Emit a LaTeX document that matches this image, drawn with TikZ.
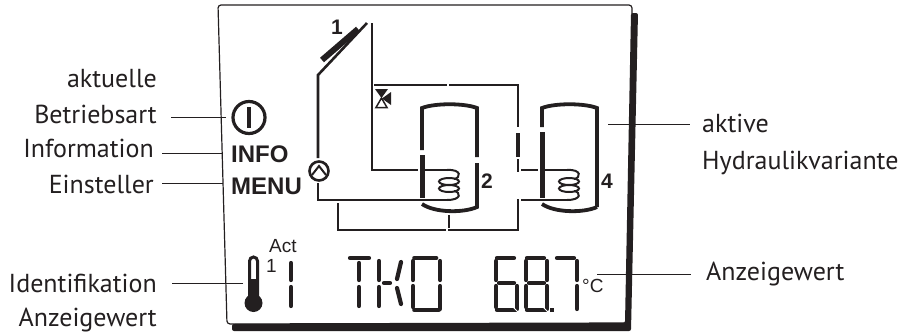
\documentclass[tikz,border=0pt]{standalone}
\usepackage{fontspec}
\setmainfont{PT Sans}
\newfontfamily\panelfont{Liberation Sans}
\usepackage{xcolor}
\usetikzlibrary{calc}
\definecolor{lcdblack}{RGB}{35,31,32}

% seven segments of one display digit
\newcommand{\segA}{\draw[seg] (1,258) -- (18,258);}
\newcommand{\segB}{\draw[seg] (21,261) -- (21,280);}
\newcommand{\segC}{\draw[seg] (21,286) -- (21,309);}
\newcommand{\segD}{\draw[seg] (1,310) -- (20,310);}
\newcommand{\segE}{\draw[seg] (0,286) -- (0,307);}
\newcommand{\segF}{\draw[seg] (0,261) -- (0,280);}
\newcommand{\segG}{\draw[seg] (3,283) -- (18,283);}
\newcommand{\segH}{\draw[white, line width=1pt] (14,304) -- (23,313);}
\newcommand{\lcddigit}[2]{\begin{scope}[#1]\foreach \s in {#2}{\csname seg\s\endcsname}\end{scope}}

\begin{document}
\begin{tikzpicture}[
    x=1pt, y=-1pt,
    lbl/.style={inner sep=0pt, font=\fontsize{26}{26}\selectfont, text=lcdblack},
    panel/.style={inner sep=0pt, font=\panelfont\bfseries\fontsize{24}{24}\selectfont, text=lcdblack},
    nummer/.style={inner sep=0pt, font=\panelfont\bfseries\fontsize{21}{21}\selectfont, text=lcdblack},
    small/.style={inner sep=0pt, font=\panelfont\fontsize{19}{19}\selectfont, text=lcdblack},
    leader/.style={draw=lcdblack, line width=1pt},
    pipe/.style={draw=lcdblack, line width=2.6pt},
    wall/.style={draw=lcdblack, line width=3.8pt},
    seg/.style={draw=lcdblack, line width=4.2pt, line cap=round}
]
    \useasboundingbox (0,0) rectangle (913,333);

    % Housing
    \fill[lcdblack, rounded corners=2pt] (631,13) -- (638,13) -- (631,331) -- (232,331) -- (232,324) -- (625,323) -- cycle;
    \draw[lcdblack, line width=1.2pt, rounded corners=3pt] (632,14) -- (632,5) -- (218,5) -- (227,324) -- (626,323);

    % Labels left
    \node[lbl, anchor=base east] (aktuelle) at (157,87) {aktuelle};
    \node[lbl, anchor=base east] (betrieb) at (157,123) {Betriebsart};
    \node[lbl, anchor=base east] (information) at (154,157) {Information};
    \node[lbl, anchor=base east] (einsteller) at (154,193) {Einsteller};
    \node[lbl, anchor=base east] (identifikation) at (157,292) {Identifikation};
    \node[lbl, anchor=base east] (anzeigeLinks) at (157,326) {Anzeigewert};

    % Labels right
    \node[lbl, anchor=base west] (aktive) at (702,132) {aktive};
    \node[lbl, anchor=base west] (hydraulik) at (702,169) {Hydraulikvariante};
    \node[lbl, anchor=base west] (anzeigeRechts) at (706,280) {Anzeigewert};

    % Panel texts
    \node[panel, anchor=base west] (info) at (231,162) {INFO};
    \node[panel, anchor=base west] (menu) at (231,194) {MENU};
    \node[nummer] (kollektor) at (337,27) {1};
    \node[nummer] (speicherA) at (487,181) {2};
    \node[nummer] (speicherB) at (607,181) {4};
    \node[small, anchor=base west] (act) at (269,252) {Act};
    \node[small, anchor=base west] (eins) at (266,272) {1};
    \node[small, anchor=base west] (grad) at (582,292) {°C};

    % Leader ends
    \coordinate (tipBetrieb) at (226,117);
    \coordinate (tipInfo) at (223,153);
    \coordinate (tipMenu) at (223,183);
    \coordinate (tipThermo) at (243,283);
    \coordinate (tipSpeicher) at (608,124);
    \coordinate (tipWert) at (597,274);

    % Leader lines
    \draw[leader, shorten >=14pt] (tipBetrieb) -- (betrieb.east |- tipBetrieb);
    \draw[leader, shorten >=8pt] (tipInfo) -- (information.east |- tipInfo);
    \draw[leader, shorten >=8pt] (tipMenu) -- (einsteller.east |- tipMenu);
    \draw[leader, shorten >=15pt] (tipThermo) -- (identifikation.east |- tipThermo);
    \draw[leader, shorten >=12pt] (tipSpeicher) -- (aktive.west |- tipSpeicher);
    \draw[leader, shorten >=15pt] (tipWert) -- (anzeigeRechts.west |- tipWert);

    % Power symbol
    \node[circle, draw=lcdblack, line width=3.2pt, minimum size=32pt, inner sep=0pt] (power) at (249,117.5) {};
    \draw[lcdblack, line width=3.4pt] (249,107) -- (249,128);

    % Collector
    \draw[lcdblack, line width=6pt] (322,60) -- (358,29);
    \draw[pipe] (318,158) -- (318,75) -- (367,23);
    \draw[pipe] (372,23) -- (372,170) -- (418,170);

    % Pump
    \node[circle, draw=lcdblack, line width=2.6pt, minimum size=19pt, inner sep=0pt] (pump) at (319,171) {};
    \draw[lcdblack, line width=2pt] (312,175) -- (319,166) -- (326,175);

    % Return pipes
    \draw[pipe] (318,183) -- (318,200) -- (450,200);
    \draw[pipe] (338,203) -- (338,230) -- (446,230);
    \draw[pipe] (449,215) -- (449,228);
    \draw[pipe] (448,230) -- (518,230) -- (518,199);
    \draw[pipe] (521,200) -- (570,200);

    % Upper pipes
    \draw[pipe] (374,85) -- (447,85);
    \draw[pipe] (449,85) -- (518,85) -- (518,127);
    \draw[lcdblack, line width=3.2pt] (518,133) -- (518,157);
    \draw[pipe] (518,159) -- (518,172);
    \draw[pipe] (521,170) -- (538,170);

    % Valve
    \fill[lcdblack] (375,89) -- (388,89) -- (381.5,98) -- cycle;
    \fill[lcdblack] (391,92) -- (391,105) -- (382,98.5) -- cycle;
    \draw[lcdblack, line width=1.5pt] (381.5,98) -- (387,107.5) -- (376,107.5) -- cycle;

    % Tanks and coils
    \foreach \tx/\gapa/\gapb/\rgapa/\rgapb in {0/150/155/157/163, 120/127/132/207/207}{
        \begin{scope}[xshift=\tx]
            \draw[wall] (422,\gapa) -- (422,108) .. controls (435,103) and (464,103) .. (477,108) -- (477,\rgapa);
            \draw[lcdblack, line width=5pt] (422,\gapb) -- (422,198);
            \draw[wall] (477,\rgapb) -- (477,207) .. controls (464,213) and (435,213) .. (422,204);
            \draw[pipe] (425,170) -- (447,170);
            \draw[lcdblack, line width=2pt] (447,170) .. controls (462,169) and (461,178) .. (454,179);
            \draw[lcdblack, line width=2pt] (449,181.5) ellipse (10 and 3.5);
            \draw[lcdblack, line width=2pt] (449,188.5) ellipse (10 and 3.5);
            \draw[lcdblack, line width=2pt] (454,191) .. controls (461,192) and (462,200) .. (447,200);
        \end{scope}
    }

    % Thermometer
    \fill[lcdblack] (253.5,303) circle (9);
    \draw[lcdblack, line width=3pt, rounded corners=4pt] (249.5,296) -- (249.5,257) -- (257.5,257) -- (257.5,296);
    \fill[lcdblack] (248,279) rectangle (259,298);

    % Display digits
    \draw[seg] (291,263) -- (291,280);
    \draw[seg] (291,287) -- (291,306);
    \draw[seg] (350,258) -- (369,258);
    \draw[seg] (359,263) -- (359,280);
    \draw[seg] (359,287) -- (359,306);
    \draw[seg] (379,261) -- (379,280);
    \draw[seg] (379,287) -- (379,306);
    \draw[seg] (384,283) -- (390,283);
    \draw[seg] (401,262) -- (397,279);
    \draw[seg] (397,288) -- (401,304);
    \lcddigit{xshift=413, xscale=1.29}{A,B,C,D,E,F}
    \lcddigit{xshift=496}{A,C,D,E,F,G,H}
    \lcddigit{xshift=526}{A,B,C,D,E,F,G,H}
    \lcddigit{xshift=556}{A,B,C}
    \fill[lcdblack] (550,308) rectangle (554,312);
\end{tikzpicture}
\end{document}
